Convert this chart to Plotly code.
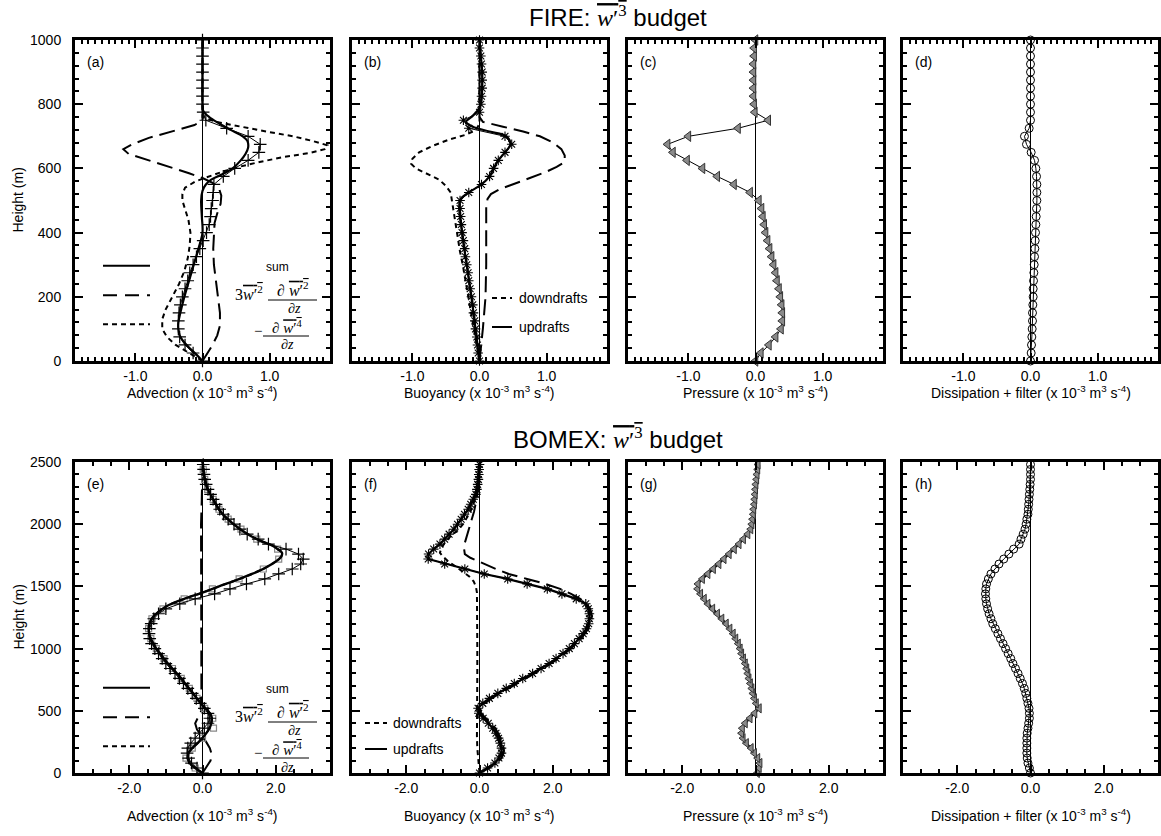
import plotly.graph_objects as go

W, H = 1161, 836

# ---------------- data ----------------
fire_z = [0, 25, 50, 75, 100, 125, 150, 175, 200, 225, 250, 275, 300, 325, 350, 375, 400, 425, 450, 475,
          500, 525, 550, 575, 600, 625, 650, 675, 700, 725, 750, 775, 800, 825, 850, 875, 900, 925, 950, 975, 1000]

fire_adv_les = [0.0, -0.14, -0.26, -0.34, -0.36, -0.36, -0.35, -0.33, -0.30, -0.26,
                -0.22, -0.19, -0.14, -0.09, -0.04, 0.01, 0.06, 0.10, 0.12, 0.13,
                0.15, 0.16, 0.17, 0.31, 0.48, 0.68, 0.84, 0.86, 0.68, 0.36,
                0.05, 0.01, 0.0, 0.0, 0.0, 0.0, 0.0, 0.0, 0.0, 0.0, 0.0]
fire_buoy_les = [0.0, -0.02, -0.03, -0.04, -0.06, -0.07, -0.09, -0.10, -0.12, -0.14,
                 -0.16, -0.17, -0.19, -0.21, -0.22, -0.24, -0.26, -0.27, -0.28, -0.29,
                 -0.29, -0.16, 0.03, 0.15, 0.21, 0.28, 0.38, 0.48, 0.38, -0.16,
                 -0.24, 0.0, 0.02, 0.03, 0.04, 0.04, 0.04, 0.03, 0.02, 0.0, 0.0]
fire_pres_les = [0.0, 0.08, 0.2, 0.3, 0.38, 0.4, 0.4, 0.39, 0.37, 0.35,
                 0.32, 0.30, 0.27, 0.24, 0.21, 0.18, 0.15, 0.13, 0.11, 0.09,
                 0.05, -0.08, -0.32, -0.57, -0.79, -1.02, -1.23, -1.31, -1.0, -0.26,
                 0.19, -0.01, -0.02, -0.03, -0.03, -0.03, -0.03, -0.03, -0.02, -0.02, 0.0]
fire_diss_les = [0.0, 0.01, 0.015, 0.02, 0.025, 0.03, 0.03, 0.035, 0.04, 0.04,
                 0.045, 0.05, 0.055, 0.06, 0.065, 0.07, 0.075, 0.08, 0.085, 0.09,
                 0.095, 0.095, 0.095, 0.09, 0.08, 0.06, 0.01, -0.06, -0.09, -0.02,
                 0.0, 0.0, 0.0, 0.0, 0.0, 0.0, 0.0, 0.0, 0.0, 0.0, 0.0]

# FIRE model curves
fire_sum_z = [0, 20, 40, 60, 80, 100, 120, 150, 200, 250, 300, 350, 400, 450, 500, 530, 550, 565, 580, 600,
              625, 645, 665, 685, 700, 720, 740, 760, 780, 800, 900, 1000]
fire_sum = [0.0, -0.09, -0.19, -0.28, -0.34, -0.36, -0.36, -0.33, -0.27, -0.2, -0.13, -0.06, 0.0, -0.01, -0.02,
            0.0, 0.05, 0.13, 0.28, 0.45, 0.57, 0.64, 0.68, 0.67, 0.6, 0.42, 0.25, 0.1, 0.01, 0.0, 0.0, 0.0]
fire_turb_z = [0, 25, 50, 80, 110, 150, 200, 250, 300, 350, 400, 430, 460, 490, 515, 535, 555, 570, 585, 605,
               625, 645, 660, 675, 695, 715, 735, 750, 800, 1000]
fire_turb = [0.0, 0.07, 0.15, 0.22, 0.26, 0.26, 0.23, 0.19, 0.17, 0.16, 0.17, 0.18, 0.22, 0.27, 0.28, 0.25,
             0.15, 0.0, -0.2, -0.5, -0.8, -1.1, -1.18, -1.05, -0.8, -0.45, -0.12, 0.0, 0.0, 0.0]
fire_trans_z = [0, 25, 50, 75, 100, 130, 160, 200, 240, 280, 320, 360, 400, 440, 470, 500, 520, 540, 560, 575,
                590, 605, 620, 635, 648, 660, 672, 685, 700, 715, 730, 745, 760, 800, 1000]
fire_trans = [0.0, -0.2, -0.4, -0.53, -0.6, -0.6, -0.55, -0.45, -0.35, -0.27, -0.22, -0.19, -0.18, -0.21, -0.26,
              -0.3, -0.3, -0.26, -0.1, 0.1, 0.3, 0.55, 0.85, 1.2, 1.6, 1.82, 1.86, 1.65, 1.35, 0.95, 0.55, 0.2,
              0.0, 0.0, 0.0]

fire_buoy_z = [0, 100, 200, 300, 400, 500, 525, 550, 575, 600, 625, 650, 675, 700, 715, 730, 745, 760, 780, 800,
               850, 900, 950, 1000]
fire_buoy = [0.0, -0.06, -0.12, -0.19, -0.26, -0.29, -0.16, 0.03, 0.15, 0.21, 0.28, 0.38, 0.46, 0.4, 0.15, -0.1,
             -0.2, -0.12, -0.03, 0.02, 0.04, 0.04, 0.02, 0.0]
fire_down_z = [0, 50, 100, 150, 200, 250, 300, 340, 380, 420, 460, 500, 525, 545, 565, 585, 600, 615, 630, 650,
               670, 690, 705, 720, 740, 760, 1000]
fire_down = [0.0, -0.04, -0.08, -0.12, -0.16, -0.2, -0.25, -0.29, -0.32, -0.35, -0.38, -0.41, -0.43, -0.5, -0.6,
             -0.8, -0.95, -1.02, -1.0, -0.9, -0.7, -0.45, -0.2, -0.05, 0.0, 0.0, 0.0]
fire_up_z = [0, 50, 100, 150, 200, 300, 400, 480, 505, 520, 535, 550, 570, 590, 605, 620, 640, 660, 680, 700,
             715, 730, 745, 760, 1000]
fire_up = [0.0, 0.03, 0.05, 0.07, 0.09, 0.1, 0.1, 0.1, 0.12, 0.17, 0.3, 0.5, 0.75, 1.0, 1.15, 1.27, 1.27, 1.22,
           1.1, 0.9, 0.65, 0.35, 0.05, 0.0, 0.0]

bomex_z = [0, 40, 80, 120, 160, 200, 240, 280, 320, 360, 400, 440, 480, 520, 560, 600, 640, 680, 720, 760,
           800, 840, 880, 920, 960, 1000, 1040, 1080, 1120, 1160, 1200, 1240, 1280, 1320, 1360, 1400, 1440, 1480,
           1520, 1560, 1600, 1640, 1680, 1720, 1760, 1800, 1840, 1880, 1920, 1960, 2000, 2040, 2080, 2120, 2160,
           2200, 2240, 2280, 2320, 2360, 2400, 2440, 2480]

bomex_adv_les = [0.0, -0.15, -0.3, -0.38, -0.42, -0.4, -0.32, -0.2, -0.08, 0.05,
                 0.15, 0.2, 0.15, 0.05, -0.06, -0.17, -0.28, -0.4, -0.52, -0.63,
                 -0.75, -0.88, -1.0, -1.1, -1.2, -1.3, -1.39, -1.44, -1.46, -1.45,
                 -1.4, -1.33, -1.2, -1.0, -0.62, -0.2, 0.33, 0.75, 1.2, 1.7,
                 2.08, 2.45, 2.68, 2.75, 2.62, 2.28, 1.8, 1.52, 1.22, 1.02,
                 0.86, 0.7, 0.57, 0.47, 0.37, 0.29, 0.22, 0.15, 0.1, 0.06,
                 0.04, 0.03, 0.02]
bomex_sq_z = [40, 120, 200, 280, 360, 440, 520, 600, 680, 760, 840, 920, 1000, 1080, 1160, 1240, 1320, 1400,
              1480, 1560, 1640, 1720, 1800, 1880, 1960, 2040, 2120, 2200, 2280, 2360, 2440]
bomex_sq = [-0.2, -0.45, -0.28, 0.0, 0.3, 0.28, 0.06, -0.15, -0.36, -0.58, -0.82, -1.05, -1.26, -1.41, -1.47,
            -1.38, -1.08, -0.5, 0.27, 1.0, 1.66, 2.08, 2.05, 1.48, 1.05, 0.7, 0.45, 0.29, 0.14, 0.06, 0.02]
bomex_buoy_les = [0.0, 0.22, 0.42, 0.53, 0.6, 0.6, 0.57, 0.52, 0.45, 0.36,
                  0.24, 0.1, -0.02, -0.04, 0.09, 0.27, 0.5, 0.73, 0.95, 1.18,
                  1.45, 1.68, 1.9, 2.09, 2.28, 2.45, 2.59, 2.72, 2.83, 2.92,
                  2.98, 3.0, 3.0, 2.97, 2.9, 2.64, 2.25, 1.85, 1.3, 0.77,
                  0.13, -0.4, -0.95, -1.4, -1.39, -1.25, -1.08, -0.95, -0.83, -0.7,
                  -0.6, -0.5, -0.41, -0.31, -0.24, -0.17, -0.1, -0.07, -0.05, -0.03,
                  -0.02, -0.01, 0.0]
bomex_pres_les = [0.05, 0.1, 0.12, 0.06, -0.03, -0.12, -0.25, -0.34, -0.38, -0.36,
                  -0.28, -0.15, -0.02, 0.1, 0.02, -0.03, -0.07, -0.1, -0.14, -0.18,
                  -0.21, -0.24, -0.28, -0.33, -0.38, -0.42, -0.47, -0.54, -0.61, -0.7,
                  -0.8, -0.92, -1.04, -1.17, -1.3, -1.4, -1.5, -1.58, -1.57, -1.45,
                  -1.3, -1.15, -1.0, -0.86, -0.72, -0.58, -0.45, -0.33, -0.21, -0.13,
                  -0.1, -0.08, -0.06, -0.05, -0.03, -0.02, -0.01, 0.0, 0.01, 0.03,
                  0.04, 0.06, 0.07]
bomex_diss_les = [0.0, -0.03, -0.07, -0.09, -0.1, -0.1, -0.1, -0.1, -0.09, -0.07,
                  -0.05, -0.03, -0.03, -0.04, -0.07, -0.1, -0.13, -0.17, -0.22, -0.28,
                  -0.34, -0.41, -0.48, -0.54, -0.61, -0.68, -0.75, -0.82, -0.89, -0.96,
                  -1.03, -1.08, -1.13, -1.17, -1.2, -1.22, -1.23, -1.22, -1.2, -1.15,
                  -1.08, -0.97, -0.86, -0.73, -0.59, -0.46, -0.31, -0.26, -0.2, -0.15,
                  -0.12, -0.1, -0.07, -0.06, -0.05, -0.04, -0.03, -0.02, -0.01, 0.0,
                  0.0, 0.0, 0.0]

# BOMEX model curves
bomex_sum_z = [0, 40, 80, 120, 160, 200, 250, 300, 350, 400, 450, 500, 550, 600, 650, 700, 750, 800, 850, 900,
               950, 1000, 1050, 1100, 1150, 1200, 1250, 1300, 1350, 1400, 1450, 1500, 1550, 1600, 1650, 1700,
               1740, 1770, 1800, 1830, 1870, 1930, 2000, 2090, 2200, 2300, 2400, 2500]
bomex_sum = [0.0, -0.2, -0.35, -0.4, -0.38, -0.28, -0.1, 0.05, 0.17, 0.24, 0.25, 0.15, -0.02, -0.15, -0.28,
             -0.42, -0.55, -0.7, -0.85, -1.0, -1.13, -1.26, -1.36, -1.44, -1.47, -1.45, -1.36, -1.18, -0.92,
             -0.5, 0.0, 0.45, 0.92, 1.35, 1.72, 2.0, 2.15, 2.17, 2.05, 1.9, 1.55, 1.18, 0.85, 0.52, 0.29, 0.12,
             0.04, 0.0]
bomex_turb_z = [0, 50, 100, 150, 200, 250, 300, 350, 400, 450, 500, 600, 800, 1000, 1200, 1400, 1600, 1800,
                2000, 2200, 2400, 2500]
bomex_turb = [0.0, 0.12, 0.22, 0.25, 0.2, 0.1, -0.03, -0.15, -0.2, -0.12, -0.03, -0.03, -0.03, -0.04, -0.05,
              -0.05, -0.05, -0.05, -0.04, -0.02, 0.0, 0.0]

bomex_down_z = [0, 100, 200, 300, 500, 800, 1000, 1200, 1400, 1450, 1500, 1540, 1580, 1620, 1660, 1700, 1740,
                1770, 1800, 1850, 1900, 1950, 2000, 2100, 2200, 2300, 2400, 2500]
bomex_down = [0.0, -0.04, -0.06, -0.07, -0.06, -0.06, -0.06, -0.06, -0.06, -0.07, -0.1, -0.16, -0.28, -0.45,
              -0.65, -0.85, -1.0, -1.08, -1.05, -0.95, -0.8, -0.6, -0.45, -0.25, -0.12, -0.05, -0.02, 0.0]
bomex_up_z = [0, 40, 80, 120, 160, 200, 280, 360, 440, 480, 520, 560, 600, 680, 760, 840, 920, 1000, 1080, 1160,
              1240, 1280, 1320, 1360, 1400, 1440, 1480, 1520, 1560, 1600, 1640, 1670, 1700, 1730, 1760, 1800,
              1850, 1900, 2000, 2100, 2200, 2300, 2400, 2500]
bomex_up = [0.0, 0.26, 0.47, 0.6, 0.66, 0.66, 0.58, 0.43, 0.17, 0.04, 0.02, 0.15, 0.33, 0.79, 1.24, 1.74, 2.15,
            2.5, 2.77, 2.97, 3.06, 3.06, 3.02, 2.92, 2.75, 2.5, 2.2, 1.8, 1.3, 0.8, 0.45, 0.2, -0.05, -0.25,
            -0.4, -0.42, -0.4, -0.35, -0.25, -0.15, -0.08, -0.03, -0.01, 0.0]

fire_xticks = [-1.0, 0.0, 1.0]
fire_xtext = ["-1.0", "0.0", "1.0"]
bomex_xticks = [-2.0, 0.0, 2.0]
bomex_xtext = ["-2.0", "0.0", "2.0"]
fire_yticks = [0, 200, 400, 600, 800, 1000]
bomex_yticks = [0, 500, 1000, 1500, 2000, 2500]

xtitles = ["Advection", "Buoyancy", "Pressure", "Dissipation + filter"]
panel_tags = ["(a)", "(b)", "(c)", "(d)", "(e)", "(f)", "(g)", "(h)"]

# ---------------- figure ----------------
fig = go.Figure()
SANS = "Liberation Sans"
SERIF = "Liberation Serif"
LONG = "16px,7px"
SHORT = "5px,4px"

cols_px = [(75, 330), (352, 607), (628, 883), (903, 1158)]
rows_px = [(40, 361), (462, 773)]


def ax(i):
    return ("x" if i == 1 else f"x{i}"), ("y" if i == 1 else f"y{i}")


def line(i, x, y, dash="solid", width=2.0, shape="linear", color="black"):
    xa, ya = ax(i)
    fig.add_trace(go.Scatter(x=x, y=y, xaxis=xa, yaxis=ya, mode="lines", cliponaxis=False,
                             line=dict(color=color, width=width, dash=dash, shape=shape),
                             showlegend=False, hoverinfo="skip"))


def marks(i, x, y, symbol, size, fill="black", lc="black", lw=1.0, linew=1.0, mode="lines+markers"):
    xa, ya = ax(i)
    fig.add_trace(go.Scatter(x=x, y=y, xaxis=xa, yaxis=ya, mode=mode, cliponaxis=False,
                             line=dict(color="black", width=linew),
                             marker=dict(symbol=symbol, size=size, color=fill,
                                         line=dict(color=lc, width=lw)),
                             showlegend=False, hoverinfo="skip"))


# (a)
line(1, fire_turb, fire_turb_z, dash=LONG)
line(1, fire_trans, fire_trans_z, dash=SHORT)
line(1, fire_sum, fire_sum_z, width=2.2, shape="spline")
marks(1, fire_adv_les, fire_z, "cross-thin-open", 9, lw=1.2)
# (b)
line(2, fire_up, fire_up_z, dash=LONG)
line(2, fire_down, fire_down_z, dash=SHORT)
line(2, fire_buoy, fire_buoy_z, width=2.2, shape="spline")
marks(2, fire_buoy_les, fire_z, "asterisk-open", 8, lw=1.1)
# (c)
marks(3, fire_pres_les, fire_z, "triangle-left", 9, fill="#8a8a8a", lc="#333333", lw=1.0)
# (d)
marks(4, fire_diss_les, fire_z, "circle-open", 8, lw=1.0)
# (e)
line(5, bomex_turb, bomex_turb_z, dash=LONG)
line(5, bomex_sum, bomex_sum_z, dash=SHORT, shape="spline")
marks(5, bomex_sq, bomex_sq_z, "square-open", 6, fill="#888888", lc="#888888", lw=1.2, mode="markers")
line(5, bomex_sum, bomex_sum_z, width=2.4, shape="spline")
marks(5, bomex_adv_les, bomex_z, "cross-thin-open", 9, lw=1.2)
# (f)
line(6, bomex_up, bomex_up_z, dash=LONG)
line(6, bomex_down, bomex_down_z, dash=SHORT)
line(6, bomex_buoy_les, bomex_z, width=2.2)
marks(6, bomex_buoy_les, bomex_z, "asterisk-open", 8, lw=1.1)
# (g)
marks(7, bomex_pres_les, bomex_z, "triangle-left", 8, fill="#8a8a8a", lc="#333333", lw=1.0, linew=2.0)
# (h)
marks(8, bomex_diss_les, bomex_z, "circle-open", 8, lw=1.0)

layout = dict(width=W, height=H, margin=dict(l=0, r=0, t=0, b=0), plot_bgcolor="white",
              paper_bgcolor="white", showlegend=False, font=dict(family=SANS, color="black", size=13))

for i in range(8):
    r, c = divmod(i, 4)
    n = i + 1
    xk = "xaxis" if n == 1 else f"xaxis{n}"
    yk = "yaxis" if n == 1 else f"yaxis{n}"
    x0, x1 = cols_px[c]
    y0, y1 = rows_px[r]
    if r == 0:
        xr, xt, xtt, xminor = [-1.9, 1.9], fire_xticks, fire_xtext, 0.1
        yr, yt, yminor = [0, 1000], fire_yticks, 40
    else:
        xr, xt, xtt, xminor = [-3.48, 3.48], bomex_xticks, bomex_xtext, 0.5
        yr, yt, yminor = [0, 2500], bomex_yticks, 100
    layout[xk] = dict(domain=[x0 / W, x1 / W], range=xr, anchor=ax(n)[1], tickmode="array",
                      tickvals=xt, ticktext=xtt, ticks="inside", ticklen=8, tickwidth=2, tickcolor="black",
                      minor=dict(tick0=0, dtick=xminor, ticks="inside", ticklen=4, tickwidth=1.5,
                                 tickcolor="black"),
                      showline=True, linewidth=3, linecolor="black", mirror="allticks",
                      showgrid=False, zeroline=True, zerolinecolor="black", zerolinewidth=1,
                      tickfont=dict(size=14, family=SANS), ticklabelstandoff=0, automargin=False,
                      fixedrange=True)
    layout[yk] = dict(domain=[1 - y1 / H, 1 - y0 / H], range=yr, anchor=ax(n)[0], tickmode="array",
                      tickvals=yt, ticktext=[str(v) for v in yt], ticks="inside", ticklen=8, tickwidth=2,
                      tickcolor="black",
                      minor=dict(tick0=0, dtick=yminor, ticks="inside", ticklen=4, tickwidth=1.5,
                                 tickcolor="black"),
                      showline=True, linewidth=3, linecolor="black", mirror="allticks",
                      showgrid=False, zeroline=False, showticklabels=(c == 0),
                      tickfont=dict(size=14, family=SANS), ticklabelstandoff=8, automargin=False,
                      fixedrange=True)
fig.update_layout(**layout)


def P(px, py):
    return px / W, 1 - py / H


def text(px, py, t, size=13, family=SANS, xanchor="center", yanchor="middle", angle=0):
    x, y = P(px, py)
    fig.add_annotation(x=x, y=y, xref="paper", yref="paper", text=t, showarrow=False,
                       font=dict(size=size, family=family, color="black"), xanchor=xanchor,
                       yanchor=yanchor, textangle=angle, borderpad=0)


def hseg(px0, px1, py, dash="solid", width=2.0):
    xa, y = P(px0, py)
    xb, _ = P(px1, py)
    fig.add_shape(type="line", xref="paper", yref="paper", x0=xa, x1=xb, y0=y, y1=y,
                  line=dict(color="black", width=width, dash=dash))


OL = "<span style='text-decoration:overline'>"
W2 = OL + "<i>w</i>′<sup>2</sup></span>"
W4 = OL + "<i>w</i>′<sup>4</sup></span>"
W3 = "<span style='font-family:Liberation Serif;text-decoration:overline'><i>w</i>′<sup>3</sup></span>"

# titles
text(618, 16, "FIRE: " + W3 + " budget", size=24)
text(618, 438, "BOMEX: " + W3 + " budget", size=24)

# axis titles
unit = " (x 10<sup>-3</sup> m<sup>3</sup> s<sup>-4</sup>)"
for r, tpy in enumerate([392, 815]):
    for c in range(4):
        x0, x1 = cols_px[c]
        text((x0 + x1) / 2, tpy, xtitles[c] + unit, size=14)
    text(18, (rows_px[r][0] + rows_px[r][1]) / 2, "Height (m)", size=14, angle=-90)

# panel tags
for i, tag in enumerate(panel_tags):
    r, c = divmod(i, 4)
    text(cols_px[c][0] + 11, rows_px[r][0] + 22, tag, size=14, xanchor="left")

# advection legends (a) and (e)
for off in (0, 422):
    hseg(103, 150, 265.7 + off)
    hseg(103, 150, 295.3 + off, dash="14px,8px")
    hseg(103, 150, 324.3 + off, dash="5px,4px")
    text(277, 267 + off, "sum", size=12)
    text(249, 293 + off, "3" + W2, size=16, family=SERIF)
    text(293, 289 + off, "∂ " + W2, size=16, family=SERIF)
    hseg(268, 317, 300 + off, width=1)
    text(294, 308 + off, "∂<i>z</i>", size=14, family=SERIF)
    text(258, 331 + off, "−", size=15, family=SERIF)
    text(287, 327 + off, "∂ " + W4, size=15, family=SERIF)
    hseg(263, 309, 336 + off, width=1)
    text(287, 345 + off, "∂<i>z</i>", size=14, family=SERIF)

# buoyancy legends (b) and (f)
hseg(492, 512, 298, dash="5px,4px")
text(518, 298, "downdrafts", size=14, xanchor="left")
hseg(492, 512, 327)
text(518, 327, "updrafts", size=14, xanchor="left")
hseg(365, 387, 723, dash="5px,4px")
text(392, 723, "downdrafts", size=14, xanchor="left")
hseg(365, 387, 749)
text(392, 749, "updrafts", size=14, xanchor="left")

fig.write_html("out.html", config={"displayModeBar": False},
               post_script="document.body.style.margin='0px';")
